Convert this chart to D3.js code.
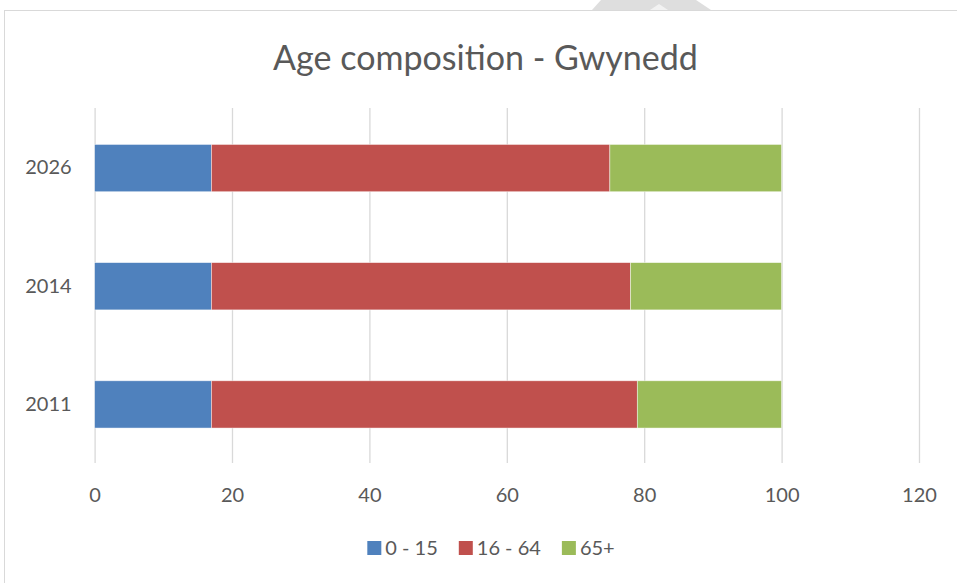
<!DOCTYPE html>
<html>
<head>
<meta charset="utf-8">
<script src="https://cdn.jsdelivr.net/npm/d3@7"></script>
<style>
  html, body { margin: 0; padding: 0; background: #fff; }
  svg { display: block; }
  text { font-family: Lato, "Open Sans", "Noto Sans", sans-serif; fill: #595959; }
</style>
</head>
<body>
<svg id="chart" width="957" height="583"></svg>
<script>
const categories = ["2026", "2014", "2011"];
const seriesNames = ["0 - 15", "16 - 64", "65+"];
const age0to15 = [17, 17, 17];
const age16to64 = [58, 61, 62];
const age65plus = [25, 22, 21];
const xTicks = [0, 20, 40, 60, 80, 100, 120];
const colors = ["#4f81bd", "#c0504d", "#9bbb59"];
const title = "Age composition - Gwynedd";

const svg = d3.select("#chart");

// page decoration (chart frame + background shape)
svg.append("polygon")
  .attr("points", "592,10 601,0 696,0 711,10")
  .attr("fill", "#dedede");
svg.append("polygon")
  .attr("points", "650,10 659,4 668,10")
  .attr("fill", "#f2f2f2");
svg.append("rect")
  .attr("x", 4.5).attr("y", 10.5).attr("width", 1000).attr("height", 1000)
  .attr("fill", "#fff").attr("stroke", "#d9d9d9").attr("stroke-width", 1);

const x = d3.scaleLinear().domain([0, 120]).range([94.6, 919]);
const y = d3.scaleBand().domain(categories).range([109, 463.5])
  .paddingInner(0.6).paddingOuter(0.3);

// gridlines + x labels
const gridTop = 108, gridBottom = 463;
const xAxis = svg.append("g")
  .attr("transform", `translate(0,${gridTop})`)
  .call(d3.axisBottom(x).tickValues(xTicks).tickSize(gridBottom - gridTop).tickFormat(d3.format("d")));
xAxis.select(".domain").remove();
xAxis.selectAll(".tick line").attr("stroke", "#d9d9d9").attr("stroke-width", 1.3);
xAxis.selectAll(".tick text")
  .attr("y", 495 - gridTop).attr("dy", "0.35em")
  .style("font-size", "20px").attr("fill", "#595959");

// stacked data
const rows = categories.map((c, i) => ({
  cat: c,
  "0 - 15": age0to15[i],
  "16 - 64": age16to64[i],
  "65+": age65plus[i]
}));
const stack = d3.stack().keys(seriesNames)(rows);

svg.append("g").selectAll("g")
  .data(stack)
  .join("g")
  .attr("fill", (d, i) => colors[i])
  .selectAll("rect")
  .data(d => d)
  .join("rect")
  .attr("x", d => x(d[0]))
  .attr("width", d => x(d[1]) - x(d[0]))
  .attr("y", d => y(d.data.cat))
  .attr("height", y.bandwidth())
  .attr("stroke", "#ffffff")
  .attr("stroke-opacity", 0.6)
  .attr("stroke-width", 0.75);

// y labels
const yAxis = svg.append("g")
  .attr("transform", `translate(${x(0)},0)`)
  .call(d3.axisLeft(y).tickSize(0).tickPadding(23));
yAxis.select(".domain").remove();
yAxis.selectAll(".tick text").style("font-size", "20px").attr("fill", "#595959");

// title
const t = svg.append("text")
  .attr("x", 485.5).attr("y", 56)
  .attr("text-anchor", "middle").attr("dominant-baseline", "central")
  .style("font-size", "32px")
  .text(title);
const tw = t.node().getComputedTextLength();
t.style("font-size", (32 * 425 / tw) + "px");

// legend
const legend = svg.append("g");
const items = legend.selectAll("g").data(seriesNames).join("g");
items.append("rect").attr("width", 14).attr("height", 14).attr("y", -7)
  .attr("fill", (d, i) => colors[i]);
items.append("text").attr("x", 18).attr("dy", "0.35em")
  .style("font-size", "20px").text(d => d);
let widths = [];
items.each(function() { widths.push(18 + d3.select(this).select("text").node().getComputedTextLength()); });
const gap = 21;
const total = d3.sum(widths) + gap * (widths.length - 1);
let cx = 491 - total / 2;
items.each(function(d, i) {
  d3.select(this).attr("transform", `translate(${cx},548)`);
  cx += widths[i] + gap;
});
</script>
</body>
</html>
